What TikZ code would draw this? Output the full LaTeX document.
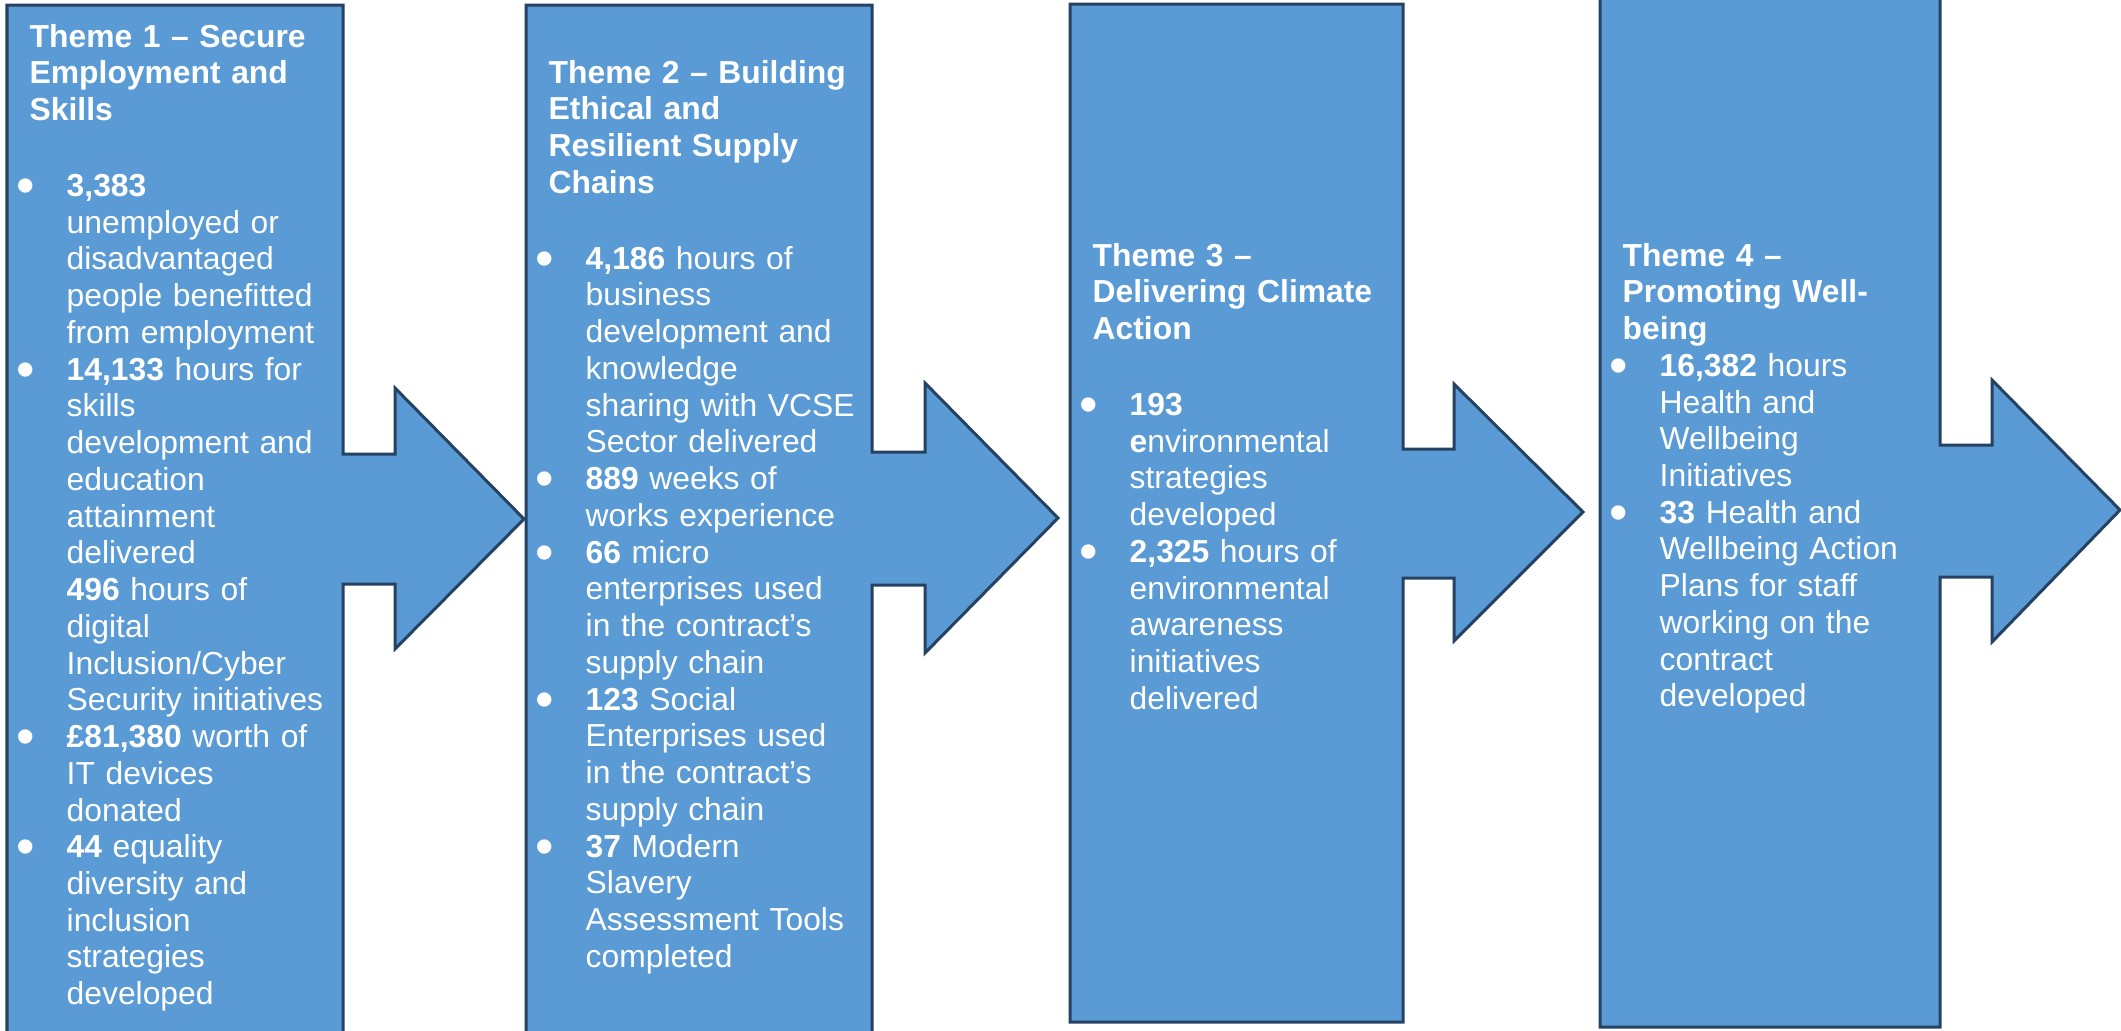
\documentclass[tikz,border=0pt]{standalone}
\usepackage{fontspec}
\setmainfont{Liberation Sans}
\usetikzlibrary{positioning}

\definecolor{themefill}{HTML}{5B9BD5}
\definecolor{themeline}{HTML}{264262}
\setlength{\parskip}{0pt}

% bullet point with indented text
\newcommand{\bulletmark}{{\fontsize{15}{15}\selectfont\raisebox{-2pt}{\textbullet}}}
\newcommand{\themeitem}[1]{\par\leftskip=0.37cm\relax\noindent
  \llap{\makebox[0pt]{\bulletmark}\hskip0.41cm}#1\par}

\begin{document}
\begin{tikzpicture}[
        x=0.01cm, y=-0.01cm,
        callout/.style={fill=themefill, draw=themeline, line width=0.03cm, line join=miter},
        themetext/.style={anchor=base west, inner sep=0pt, text width=3.5cm, text=white,
            font=\fontsize{9.05}{10.45}\selectfont}
    ]
        \useasboundingbox (0,0) rectangle (2121,1030);

        % Arrow callouts
        \draw[callout] (7,5) -- (343,5) -- (343,454) -- (395,454) -- (395,388) -- (524,519)
            -- (395,649) -- (395,584) -- (343,584) -- (343,1045) -- (7,1045) -- cycle;
        \draw[callout] (526,5) -- (872,5) -- (872,452) -- (925,452) -- (925,383) -- (1058,518)
            -- (925,653) -- (925,585) -- (872,585) -- (872,1045) -- (526,1045) -- cycle;
        \draw[callout] (1070,4) -- (1403,4) -- (1403,449) -- (1454,449) -- (1454,384) -- (1583,512)
            -- (1454,641) -- (1454,578) -- (1403,578) -- (1403,1022) -- (1070,1022) -- cycle;
        \draw[callout] (1600,-10) -- (1940,-10) -- (1940,445) -- (1992,445) -- (1992,380) -- (2120,510)
            -- (1992,642) -- (1992,577) -- (1940,577) -- (1940,1027) -- (1600,1027) -- cycle;

        % Theme texts
        \node[themetext] (theme1) at (29,47) {%
            \textbf{Theme 1 – Secure\\Employment and\\Skills}\par\vspace{0.39cm}
            \themeitem{\textbf{3,383}\\unemployed or\\disadvantaged\\people benefitted\\from employment}
            \themeitem{\textbf{14,133} hours for\\skills\\development and\\education\\attainment\\delivered\\\textbf{496} hours of\\digital\\Inclusion/Cyber\\Security initiatives}
            \themeitem{\textbf{£81,380} worth of\\IT devices\\donated}
            \themeitem{\textbf{44} equality\\diversity and\\inclusion\\strategies\\developed}};
        \node[themetext] (theme2) at (548,83) {%
            \textbf{Theme 2 – Building\\Ethical and\\Resilient Supply\\Chains}\par\vspace{0.39cm}
            \themeitem{\textbf{4,186} hours of\\business\\development and\\knowledge\\sharing with VCSE\\Sector delivered}
            \themeitem{\textbf{889} weeks of\\works experience}
            \themeitem{\textbf{66} micro\\enterprises used\\in the contract’s\\supply chain}
            \themeitem{\textbf{123} Social\\Enterprises used\\in the contract’s\\supply chain}
            \themeitem{\textbf{37} Modern\\Slavery\\Assessment Tools\\completed}};
        \node[themetext] (theme3) at (1092,266) {%
            \textbf{Theme 3 –\\Delivering Climate\\Action}\par\vspace{0.39cm}
            \themeitem{\textbf{193}\\\textbf{e}nvironmental\\strategies\\developed}
            \themeitem{\textbf{2,325} hours of\\environmental\\awareness\\initiatives\\delivered}};
        \node[themetext] (theme4) at (1622,266) {%
            \textbf{Theme 4 –\\Promoting Well-\\being}
            \themeitem{\textbf{16,382} hours\\Health and\\Wellbeing\\Initiatives}
            \themeitem{\textbf{33} Health and\\Wellbeing Action\\Plans for staff\\working on the\\contract\\developed}};
    \end{tikzpicture}
\end{document}
